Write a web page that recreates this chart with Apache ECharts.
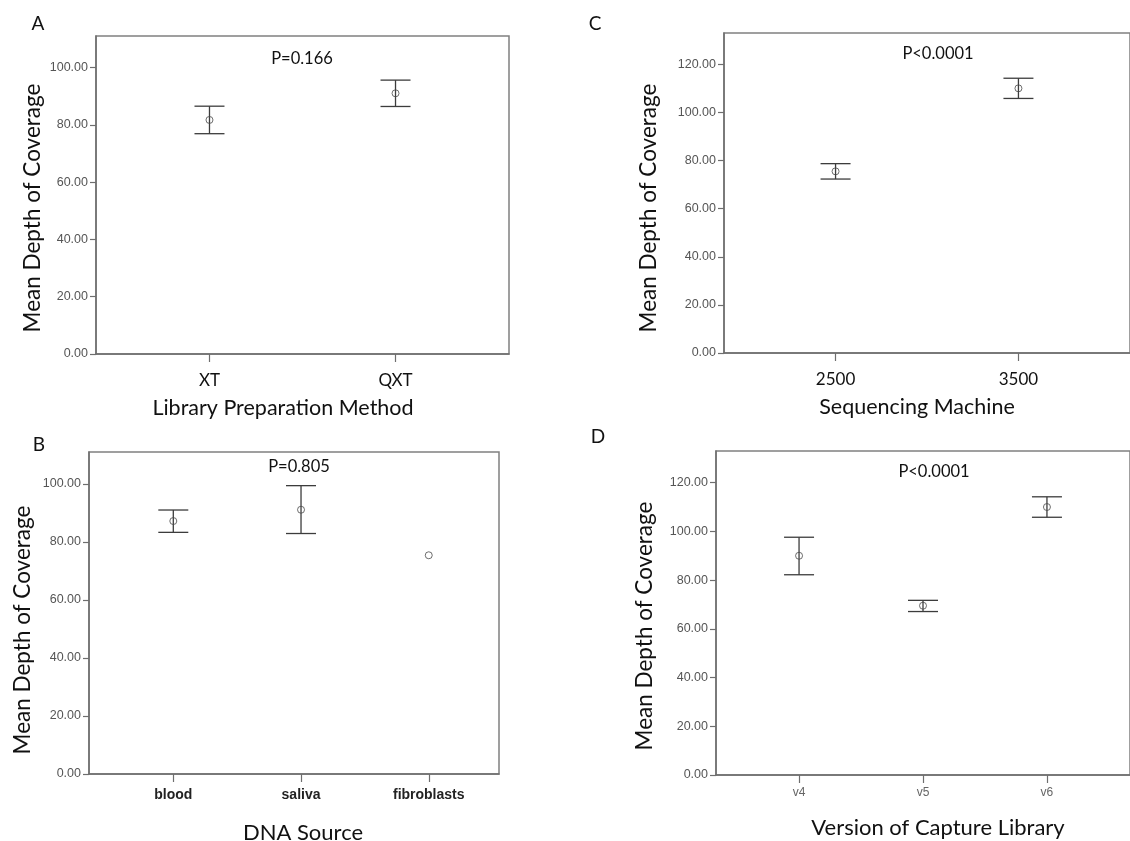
<!DOCTYPE html>
<html>
<head>
<meta charset="utf-8">
<script src="https://cdn.jsdelivr.net/npm/echarts@6/dist/echarts.min.js"></script>
<style>
  html, body { margin: 0; padding: 0; background: #fff; }
  #chart { width: 1130px; height: 841px; }
</style>
</head>
<body>
<div id="chart"></div>
<script>
// panel A - library preparation
var catsA = ['XT', 'QXT'];
var meanA = [81.7, 91.0];
var lowA = [76.9, 86.4];
var highA = [86.5, 95.6];

// panel B - DNA source
var catsB = ['blood', 'saliva', 'fibroblasts'];
var meanB = [87.2, 91.1, 75.4];
var lowB = [83.3, 82.9, null];
var highB = [91.0, 99.4, null];

// panel C - sequencing machine
var catsC = ['2500', '3500'];
var meanC = [75.5, 110.0];
var lowC = [72.3, 105.8];
var highC = [78.7, 114.2];

// panel D - capture library version
var catsD = ['v4', 'v5', 'v6'];
var meanD = [90.0, 69.5, 110.0];
var lowD = [82.2, 67.1, 105.8];
var highD = [97.6, 71.7, 114.2];

var yTicksAB = [0, 20, 40, 60, 80, 100];
var yTicksCD = [0, 20, 40, 60, 80, 100, 120];
var pValues = ['P=0.166', 'P=0.805', 'P<0.0001', 'P<0.0001'];

var chart = echarts.init(document.getElementById('chart'));

var grids = [], xAxes = [], yAxes = [], series = [];

function errBar(params, api) {
  var x = api.value(0);
  var top = api.coord([x, api.value(2)]);
  var bot = api.coord([x, api.value(1)]);
  var st = { stroke: '#3c3c3c', lineWidth: 1.3 };
  return {
    type: 'group',
    children: [
      { type: 'line', shape: { x1: top[0], y1: top[1], x2: bot[0], y2: bot[1] }, style: st },
      { type: 'line', shape: { x1: top[0] - 15, y1: top[1], x2: top[0] + 15, y2: top[1] }, style: st },
      { type: 'line', shape: { x1: bot[0] - 15, y1: bot[1], x2: bot[0] + 15, y2: bot[1] }, style: st }
    ]
  };
}

function addPanel(box, xr, ymax, yTicks, cats, mean, low, high, catLabel) {
  var i = grids.length;
  grids.push({
    left: box[0], top: box[1], width: box[2], height: box[3],
    show: true, borderColor: '#808080', borderWidth: 1.5, backgroundColor: '#fff'
  });
  var idx = cats.map(function (c, k) { return k; });
  xAxes.push({
    gridIndex: i, type: 'value', min: xr[0], max: xr[1],
    axisLine: { show: true, onZero: false, lineStyle: { color: '#6e6e6e', width: 1.5 } },
    axisTick: { show: true, customValues: idx, length: 8, lineStyle: { color: '#6e6e6e', width: 1.2 } },
    axisLabel: Object.assign({
      customValues: idx,
      formatter: function (v) { return cats[Math.round(v)]; }
    }, catLabel),
    splitLine: { show: false }
  });
  yAxes.push({
    gridIndex: i, type: 'value', min: 0, max: ymax,
    axisLine: { show: true, onZero: false, lineStyle: { color: '#6e6e6e', width: 1.5 } },
    axisTick: { show: true, customValues: yTicks, length: 6, lineStyle: { color: '#6e6e6e', width: 1.2 } },
    axisLabel: {
      customValues: yTicks, margin: 8,
      fontFamily: 'Liberation Sans', fontSize: 12.5, color: '#555',
      formatter: function (v) { return v.toFixed(2); }
    },
    splitLine: { show: false }
  });
  var bars = [];
  idx.forEach(function (k) {
    if (low[k] != null) bars.push([k, low[k], high[k]]);
  });
  series.push({
    type: 'custom', xAxisIndex: i, yAxisIndex: i,
    renderItem: errBar, data: bars, z: 2, silent: true
  });
  series.push({
    type: 'scatter', xAxisIndex: i, yAxisIndex: i,
    data: idx.map(function (k) { return [k, mean[k]]; }),
    symbol: 'circle', symbolSize: 7, z: 3, silent: true,
    itemStyle: { color: 'rgba(0,0,0,0)', borderColor: '#4a4a4a', borderWidth: 1 }
  });
}

var bigLbl = { fontFamily: 'Lato', fontSize: 17, color: '#111', margin: 18 };

addPanel([96, 36, 413, 318], [-0.61, 1.61], 111, yTicksAB, catsA, meanA, lowA, highA, bigLbl);
addPanel([89, 452, 410, 322], [-0.66, 2.55], 111, yTicksAB, catsB, meanB, lowB, highB,
  { fontFamily: 'Liberation Sans', fontSize: 14, fontWeight: 'bold', color: '#222', margin: 14 });
addPanel([724, 33, 415, 320], [-0.61, 1.61], 133, yTicksCD, catsC, meanC, lowC, highC, bigLbl);
addPanel([716, 451, 422, 324], [-0.67, 2.67], 133, yTicksCD, catsD, meanD, lowD, highD,
  { fontFamily: 'Liberation Sans', fontSize: 12, color: '#666', margin: 12 });

function txt(s, x, y, size, rot) {
  return {
    type: 'text', x: x, y: y, rotation: rot || 0, z: 10,
    style: { text: s, fontFamily: 'Lato', fontSize: size, fill: '#111',
      textAlign: 'center', textVerticalAlign: 'middle' }
  };
}

var graphics = [
  txt('A', 38, 24, 19), txt('B', 39, 445, 19), txt('C', 595, 24, 19), txt('D', 598, 437, 19),
  txt(pValues[0], 302, 59, 16.5), txt(pValues[1], 299, 467, 16.5),
  txt(pValues[2], 938, 54, 16.5), txt(pValues[3], 934, 472, 16.5),
  txt('Mean Depth of Coverage', 33, 208, 22.5, Math.PI / 2),
  txt('Mean Depth of Coverage', 23, 630, 22.5, Math.PI / 2),
  txt('Mean Depth of Coverage', 649, 208, 22.5, Math.PI / 2),
  txt('Mean Depth of Coverage', 645, 626, 22.5, Math.PI / 2),
  txt('Library Preparation Method', 283, 408, 21.5),
  txt('DNA Source', 303, 833, 22),
  txt('Sequencing Machine', 917, 407, 21.5),
  txt('Version of Capture Library', 938, 828, 22)
];

chart.setOption({
  animation: false,
  backgroundColor: '#fff',
  grid: grids,
  xAxis: xAxes,
  yAxis: yAxes,
  series: series,
  graphic: graphics
});
</script>
</body>
</html>
